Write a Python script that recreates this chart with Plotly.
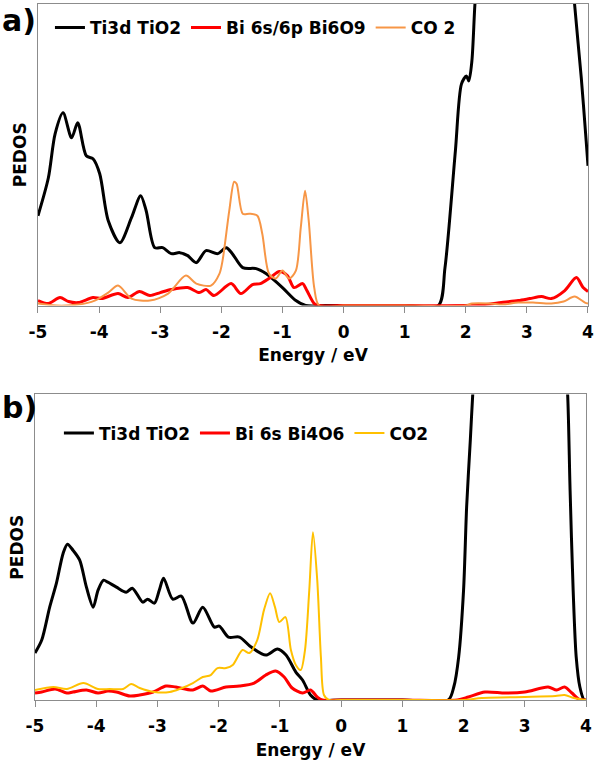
import plotly.graph_objects as go

# ---------------- data (arbitrary PEDOS units) ----------------
# Panel a)
energy_a_ti = [-5.0, -4.83, -4.72, -4.59, -4.45, -4.35, -4.21, -4.10, -3.99, -3.85, -3.66, -3.47,
               -3.32, -3.23, -3.09, -2.96, -2.82, -2.68, -2.55, -2.41, -2.25, -2.06, -1.92, -1.82,
               -1.65, -1.43, -1.27, -1.0, -0.78, -0.62, -0.3, 0.0, 0.5, 1.0, 1.55, 1.66, 1.83, 1.93,
               2.01, 2.05, 2.10, 2.15, 2.2, 2.5, 3.0, 3.4, 3.7, 3.75, 3.78, 3.89, 3.97, 4.0]
pedos_a_ti = [90, 128, 172, 193, 168, 183, 150, 147, 132, 85, 63, 88,
              110, 95, 58, 58, 52, 53, 50, 43, 55, 52, 58, 52,
              38, 37, 32, 18, 5, 0, 0, 0, 0, 0, 0, 38, 155, 222,
              230, 225, 245, 302, 340, 450, 500, 460, 360, 330, 302, 228, 165, 140]

energy_a_bi = [-5.0, -4.83, -4.64, -4.5, -4.34, -4.1, -3.96, -3.69, -3.53, -3.34, -3.17, -3.0,
               -2.82, -2.55, -2.36, -2.25, -2.12, -1.84, -1.68, -1.49, -1.36, -1.2, -1.05, -0.92,
               -0.81, -0.67, -0.6, -0.48, -0.4, 0.0, 1.0, 2.0, 2.3, 2.58, 2.86, 3.05, 3.24, 3.40,
               3.62, 3.81, 3.92, 4.0]
pedos_a_bi = [5, 2, 8, 4, 3, 8, 7, 12, 8, 14, 10, 13,
              16, 18, 13, 16, 10, 22, 12, 21, 22, 28, 34, 30,
              18, 22, 15, 2, 0, 0, 0, 0, 1, 3, 5, 7, 9, 7,
              15, 28, 18, 14]

energy_a_co2 = [-5.0, -4.7, -4.34, -4.07, -3.85, -3.69, -3.47, -3.17, -2.87, -2.58, -2.41, -2.17,
                -2.03, -1.98, -1.87, -1.79, -1.75, -1.65, -1.54, -1.41, -1.33, -1.22, -1.11, -1.0,
                -0.89, -0.78, -0.70, -0.63, -0.57, -0.48, -0.40, 0.0, 1.0, 2.0, 2.1, 2.4, 2.6,
                2.86, 3.1, 3.4, 3.6, 3.78, 3.95, 4.0]
pedos_a_co2 = [2, 0, 1, 5, 13, 20, 7, 5, 12, 30, 22, 20,
               32, 45, 95, 124, 122, 92, 92, 90, 72, 32, 27, 35,
               27, 35, 78, 115, 85, 18, 0, 0, 0, 0, 2, 2, 1,
               3, 3, 2, 4, 9, 3, 2]

# Panel b)
energy_b_ti = [-5.0, -4.89, -4.76, -4.65, -4.54, -4.47, -4.38, -4.27, -4.16, -4.05, -3.97, -3.88,
               -3.81, -3.67, -3.51, -3.41, -3.24, -3.16, -3.05, -2.97, -2.90, -2.75, -2.61, -2.42,
               -2.26, -2.07, -1.99, -1.84, -1.66, -1.47, -1.23, -1.04, -0.90, -0.74, -0.63, -0.50,
               -0.39, 0.0, 1.0, 1.75, 1.84, 1.92, 2.0, 2.05, 2.11, 2.15, 2.2, 2.5, 3.0, 3.4,
               3.65, 3.70, 3.74, 3.79, 3.84, 3.90, 3.97, 4.0]
pedos_b_ti = [47, 60, 93, 117, 147, 156, 150, 140, 113, 93, 110, 120,
              118, 113, 108, 112, 98, 101, 97, 110, 122, 101, 104, 77,
              93, 73, 74, 63, 63, 53, 45, 51, 45, 28, 20, 5,
              0, 0, 0, 0, 13, 43, 110, 193, 260, 306, 350, 450, 500, 450,
              350, 306, 210, 110, 43, 13, 0, 0]

energy_b_bi = [-5.0, -4.89, -4.67, -4.48, -4.38, -4.16, -3.97, -3.81, -3.67, -3.45, -3.29, -3.07,
               -2.86, -2.70, -2.42, -2.26, -2.13, -1.88, -1.66, -1.42, -1.23, -1.07, -0.93, -0.80,
               -0.63, -0.50, -0.39, -0.31, 0.0, 1.0, 1.9, 2.08, 2.35, 2.68, 3.0, 3.38, 3.52, 3.65,
               3.77, 3.88, 4.0]
pedos_b_bi = [7, 8, 11, 7, 8, 10, 7, 9, 8, 4, 5, 8,
              14, 13, 10, 14, 9, 13, 14, 17, 25, 29, 23, 12,
              7, 10, 3, 0, 0, 0, 0, 3, 8, 7, 8, 13, 10, 13,
              7, 1, 0]

energy_b_co2 = [-5.0, -4.70, -4.48, -4.21, -3.97, -3.78, -3.56, -3.43, -3.29, -3.05, -2.80, -2.64,
                -2.42, -2.26, -2.13, -2.02, -1.88, -1.77, -1.61, -1.50, -1.37, -1.26, -1.16, -1.08,
                -1.01, -0.91, -0.82, -0.74, -0.66, -0.59, -0.52, -0.46, -0.39, -0.33, -0.28, -0.2,
                0.0, 1.0, 2.0, 2.3, 3.0, 3.5, 3.65, 3.8, 4.0]
pedos_b_co2 = [10, 13, 11, 17, 11, 11, 11, 16, 12, 8, 8, 11,
               17, 23, 25, 32, 32, 35, 50, 47, 60, 90, 107, 93,
               78, 83, 50, 35, 30, 50, 110, 168, 120, 43, 5, 0,
               0, 0, 0, 2, 3, 4, 5, 2, 0]

tick_values = [-5, -4, -3, -2, -1, 0, 1, 2, 3, 4]
tick_labels = ["-5", "-4", "-3", "-2", "-1", "0", "1", "2", "3", "4"]

# ---------------- layout helpers ----------------
W, H = 597, 764
L, R, T, B = 35, 7, 3, 64
PW, PH = W - L - R, H - T - B


def fx(px):
    return (px - L) / PW


def fy(py):
    return (H - B - py) / PH


FONT = "DejaVu Sans"
RED, ORANGE, YELLOW = "#FF0000", "#F79646", "#FFC000"
AXC = "#8C8C8C"

fig = go.Figure()


def add(x, y, name, color, width, xa, ya, leg):
    fig.add_trace(go.Scatter(
        x=x, y=y, mode="lines", name=name,
        line=dict(color=color, width=width, shape="spline", smoothing=0.8),
        xaxis=xa, yaxis=ya, legend=leg))


add(energy_a_ti, pedos_a_ti, "Ti3d TiO2", "black", 3, "x", "y", "legend")
add(energy_a_bi, pedos_a_bi, "Bi 6s/6p Bi6O9", RED, 3, "x", "y", "legend")
add(energy_a_co2, pedos_a_co2, "CO 2", ORANGE, 2, "x", "y", "legend")
add(energy_b_ti, pedos_b_ti, "Ti3d TiO2", "black", 3, "x2", "y2", "legend2")
add(energy_b_bi, pedos_b_bi, "Bi 6s Bi4O6", RED, 3, "x2", "y2", "legend2")
add(energy_b_co2, pedos_b_co2, "CO2", YELLOW, 2, "x2", "y2", "legend2")

bold17 = dict(family=FONT, size=17, color="black", weight="bold")


def xaxis(dom, anchor):
    return dict(domain=dom, anchor=anchor, range=[-5, 4], tickvals=tick_values, ticktext=tick_labels,
                ticks="outside", ticklen=6, tickcolor=AXC, tickwidth=1, ticklabelstandoff=5,
                showline=True, linecolor=AXC, linewidth=1, mirror=True,
                showgrid=False, zeroline=False, tickfont=bold17,
                title=dict(text="Energy / eV", font=bold17, standoff=8))


def yaxis(dom, anchor, top):
    return dict(domain=dom, anchor=anchor, range=[0, top], showticklabels=False, ticks="",
                showline=True, linecolor=AXC, linewidth=1, mirror=True,
                showgrid=False, zeroline=False,
                title=dict(text="PEDOS", font=bold17, standoff=6))


leg_common = dict(orientation="h", xanchor="left", yanchor="middle", bgcolor="rgba(0,0,0,0)",
                  font=dict(family=FONT, size=17, color="black", weight="bold"),
                  itemwidth=30, tracegroupgap=0)

fig.update_layout(
    width=W, height=H, margin=dict(l=L, r=R, t=T, b=B),
    paper_bgcolor="white", plot_bgcolor="white", showlegend=True,
    xaxis=xaxis([fx(38), fx(590)], "y"),
    yaxis=yaxis([fy(305), fy(3)], "x", 302),
    xaxis2=xaxis([fx(35), fx(588)], "y2"),
    yaxis2=yaxis([fy(700), fy(394)], "x2", 306),
    legend=dict(x=fx(50), y=fy(27), **leg_common),
    legend2=dict(x=fx(59), y=fy(433), **leg_common),
    annotations=[
        dict(text="a)", xref="paper", yref="paper", x=fx(0), y=fy(0), xanchor="left", yanchor="top",
             showarrow=False, font=dict(family=FONT, size=30, color="black", weight="bold")),
        dict(text="b)", xref="paper", yref="paper", x=fx(0), y=fy(388), xanchor="left", yanchor="top",
             showarrow=False, font=dict(family=FONT, size=30, color="black", weight="bold")),
    ],
)

fig.write_html("out.html", config={"displayModeBar": False},
               post_script="document.body.style.margin='0';")
